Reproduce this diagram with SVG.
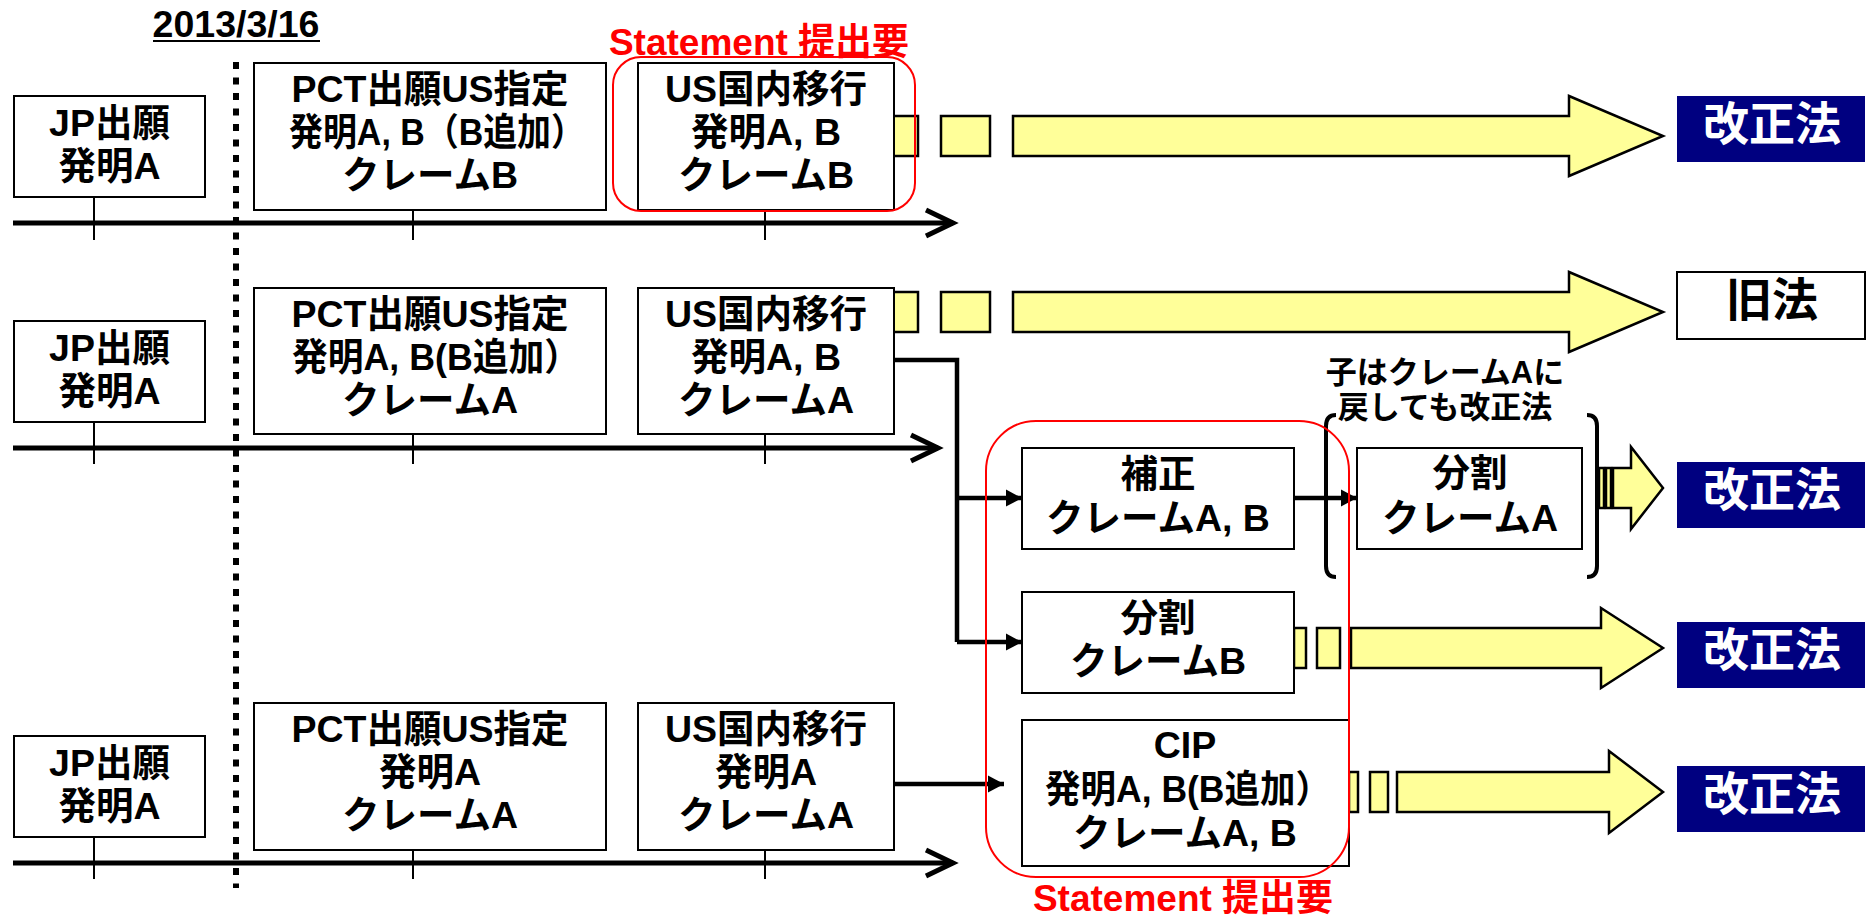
<svg xmlns="http://www.w3.org/2000/svg" width="1869" height="916" viewBox="0 0 1869 916">
<style>
text{font-family:"Liberation Sans","Noto Sans CJK JP",sans-serif;font-weight:700;text-anchor:middle}
.t{font-size:37.5px;fill:#000}
.s{font-size:31px;fill:#000}
.law{font-size:46px;fill:#fff}
.old{font-size:46px;fill:#000}
.red{font-size:37px;fill:#ff0000}
.box{fill:#fff;stroke:#000;stroke-width:2}
.navy{fill:#000080}
.yel{fill:#ffff99;stroke:#000;stroke-width:2.5}
.axis{stroke:#000;stroke-width:5;fill:none}
.tick{stroke:#000;stroke-width:2}
.con{stroke:#000;stroke-width:4.5;fill:none}
.stmt{fill:none;stroke:#ff0000;stroke-width:2}
</style>
<defs>
<marker id="ah" markerUnits="userSpaceOnUse" markerWidth="17" markerHeight="18" refX="16" refY="9" orient="auto">
<path d="M0,0.5 L16,9 L0,17.5 z" fill="#000"/>
</marker>
</defs>
<rect width="1869" height="916" fill="#fff"/>

<g id="date">
<text class="t" x="236" y="37">2013/3/16</text>
<line x1="153" y1="41" x2="320" y2="41" stroke="#000" stroke-width="2"/>
</g>
<line id="cutoff" x1="236" y1="62" x2="236" y2="888" stroke="#000" stroke-width="6" stroke-dasharray="7 8.5"/>

<g id="yellow-arrows">
<rect class="yel" x="893" y="116" width="25" height="40"/>
<rect class="yel" x="941" y="116" width="49" height="40"/>
<polygon class="yel" points="1013,116 1569,116 1569,96 1663,136 1569,176 1569,156 1013,156"/>
<rect class="yel" x="893" y="292" width="25" height="40"/>
<rect class="yel" x="941" y="292" width="49" height="40"/>
<polygon class="yel" points="1013,292 1569,292 1569,272 1663,312 1569,352 1569,332 1013,332"/>
<rect class="yel" x="1599" y="468" width="5" height="40"/>
<rect class="yel" x="1606" y="468" width="5" height="40"/>
<polygon class="yel" points="1613,468 1631,468 1631,447 1663,488 1631,529 1631,508 1613,508"/>
<rect class="yel" x="1294" y="628" width="12" height="40"/>
<rect class="yel" x="1317" y="628" width="23" height="40"/>
<polygon class="yel" points="1351,628 1601,628 1601,608 1663,648 1601,688 1601,668 1351,668"/>
<rect class="yel" x="1349" y="772" width="9" height="40"/>
<rect class="yel" x="1370" y="772" width="18" height="40"/>
<polygon class="yel" points="1397,772 1609,772 1609,751 1663,792 1609,833 1609,812 1397,812"/>
</g>

<g id="axes">
<line class="axis" x1="13" y1="223" x2="953" y2="223"/>
<polyline class="axis" points="926,210 953,223 926,236"/>
<line class="axis" x1="13" y1="448" x2="938" y2="448"/>
<polyline class="axis" points="911,435 938,448 911,461"/>
<line class="axis" x1="13" y1="863" x2="953" y2="863"/>
<polyline class="axis" points="926,850 953,863 926,876"/>
<line class="tick" x1="94" y1="197" x2="94" y2="240"/>
<line class="tick" x1="413" y1="210" x2="413" y2="240"/>
<line class="tick" x1="765" y1="210" x2="765" y2="240"/>
<line class="tick" x1="94" y1="422" x2="94" y2="464"/>
<line class="tick" x1="413" y1="434" x2="413" y2="464"/>
<line class="tick" x1="765" y1="434" x2="765" y2="464"/>
<line class="tick" x1="94" y1="837" x2="94" y2="879"/>
<line class="tick" x1="413" y1="850" x2="413" y2="879"/>
<line class="tick" x1="765" y1="850" x2="765" y2="879"/>
</g>

<g id="jp1"><rect class="box" x="14" y="96" width="191" height="101"/>
<text class="t" x="109.5" y="136">JP出願</text><text class="t" x="109.5" y="179">発明A</text></g>
<g id="pct1"><rect class="box" x="254" y="63" width="352" height="147"/>
<text class="t" x="430" y="102">PCT出願US指定</text><text class="t" x="437" y="145" textLength="296" lengthAdjust="spacingAndGlyphs">発明A, B（B追加）</text><text class="t" x="430" y="188">クレームB</text></g>
<g id="us1"><rect class="box" x="638" y="63" width="256" height="147"/>
<text class="t" x="766" y="102">US国内移行</text><text class="t" x="766" y="145">発明A, B</text><text class="t" x="766" y="188">クレームB</text></g>

<g id="jp2"><rect class="box" x="14" y="321" width="191" height="101"/>
<text class="t" x="109.5" y="361">JP出願</text><text class="t" x="109.5" y="404">発明A</text></g>
<g id="pct2"><rect class="box" x="254" y="288" width="352" height="146"/>
<text class="t" x="430" y="327">PCT出願US指定</text><text class="t" x="436" y="370" textLength="288" lengthAdjust="spacingAndGlyphs">発明A, B(B追加）</text><text class="t" x="430" y="413">クレームA</text></g>
<g id="us2"><rect class="box" x="638" y="288" width="256" height="146"/>
<text class="t" x="766" y="327">US国内移行</text><text class="t" x="766" y="370">発明A, B</text><text class="t" x="766" y="413">クレームA</text></g>

<g id="jp4"><rect class="box" x="14" y="736" width="191" height="101"/>
<text class="t" x="109.5" y="776">JP出願</text><text class="t" x="109.5" y="819">発明A</text></g>
<g id="pct4"><rect class="box" x="254" y="703" width="352" height="147"/>
<text class="t" x="430" y="742">PCT出願US指定</text><text class="t" x="430" y="785">発明A</text><text class="t" x="430" y="828">クレームA</text></g>
<g id="us4"><rect class="box" x="638" y="703" width="256" height="147"/>
<text class="t" x="766" y="742">US国内移行</text><text class="t" x="766" y="785">発明A</text><text class="t" x="766" y="828">クレームA</text></g>

<g id="hosei"><rect class="box" x="1022" y="448" width="272" height="101"/>
<text class="t" x="1158" y="487">補正</text><text class="t" x="1158" y="531">クレームA, B</text></g>
<g id="bunkatsuA"><rect class="box" x="1357" y="448" width="225" height="101"/>
<text class="t" x="1470" y="486">分割</text><text class="t" x="1470" y="531">クレームA</text></g>
<g id="bunkatsuB"><rect class="box" x="1022" y="592" width="272" height="101"/>
<text class="t" x="1158" y="631">分割</text><text class="t" x="1158" y="674">クレームB</text></g>
<g id="cip"><rect class="box" x="1022" y="720" width="327" height="146"/>
<text class="t" x="1185" y="758">CIP</text><text class="t" x="1188" y="802" textLength="286" lengthAdjust="spacingAndGlyphs">発明A, B(B追加）</text><text class="t" x="1185" y="846">クレームA, B</text></g>

<g id="note">
<text class="s" x="1445" y="383">子はクレームAに</text>
<text class="s" x="1445" y="418">戻しても改正法</text>
<path d="M1336,415 Q1326,415 1326,426 V566 Q1326,577 1336,577" fill="none" stroke="#000" stroke-width="4"/>
<path d="M1587,415 Q1597,415 1597,426 V566 Q1597,577 1587,577" fill="none" stroke="#000" stroke-width="4"/>
</g>

<g id="laws">
<g id="law1"><rect class="navy" x="1677" y="96" width="188" height="66"/><text class="law" x="1772" y="140">改正法</text></g>
<g id="law2"><rect class="box" x="1677" y="272" width="188" height="67"/><text class="old" x="1772" y="316">旧法</text></g>
<g id="law3"><rect class="navy" x="1677" y="462" width="188" height="66"/><text class="law" x="1772" y="506">改正法</text></g>
<g id="law4"><rect class="navy" x="1677" y="622" width="188" height="66"/><text class="law" x="1772" y="666">改正法</text></g>
<g id="law5"><rect class="navy" x="1677" y="766" width="188" height="66"/><text class="law" x="1772" y="810">改正法</text></g>
</g>

<g id="connectors">
<path class="con" d="M894,360 H957 V642"/>
<line class="con" x1="957" y1="498" x2="1022" y2="498" marker-end="url(#ah)"/>
<line class="con" x1="957" y1="642" x2="1022" y2="642" marker-end="url(#ah)"/>
<line class="con" x1="1294" y1="498" x2="1357" y2="498" marker-end="url(#ah)"/>
<line class="con" x1="894" y1="784" x2="1004" y2="784" marker-end="url(#ah)"/>
</g>

<g id="statements">
<rect class="stmt" x="613" y="57" width="302" height="154" rx="28"/>
<text class="red" x="759" y="55">Statement 提出要</text>
<rect class="stmt" x="986" y="421" width="363" height="456" rx="50"/>
<text class="red" x="1183" y="911">Statement 提出要</text>
</g>
</svg>
